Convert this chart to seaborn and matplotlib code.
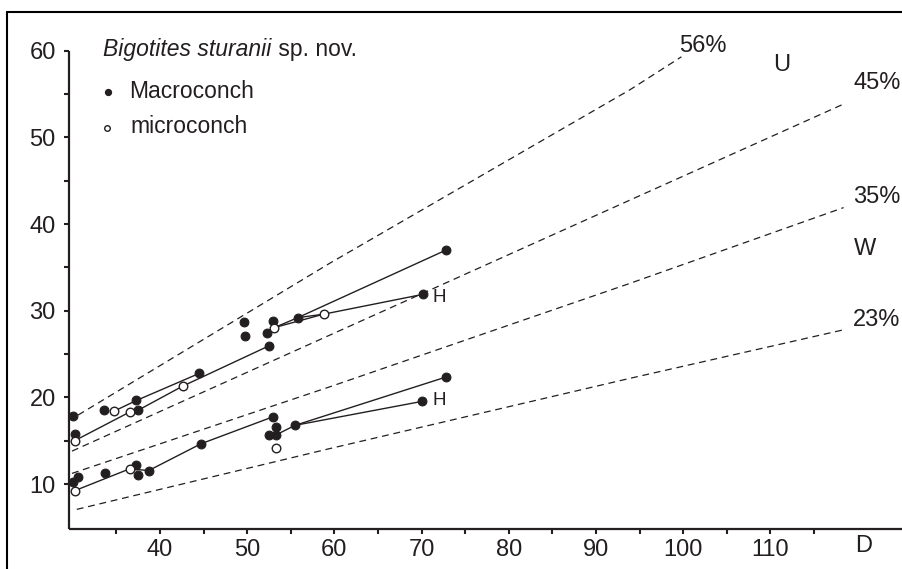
import numpy as np
import pandas as pd
import matplotlib
matplotlib.use("Agg")
import matplotlib.pyplot as plt
from matplotlib.lines import Line2D
import seaborn as sns

# ---------------------------------------------------------------------------
# data (D = diameter, y = dimension in mm)
# ---------------------------------------------------------------------------
macro_D = [30.0, 30.3, 33.6, 37.3, 37.45, 44.5, 49.6, 49.7, 52.3, 53.0, 52.5, 55.8, 70.2, 72.8,
           30.0, 30.6, 33.7, 37.3, 37.45, 38.7, 44.7, 52.9, 52.5, 53.3, 53.35, 55.5, 70.1, 72.8]
macro_y = [17.8, 15.8, 18.6, 19.65, 18.5, 22.77, 28.65, 27.1, 27.4, 28.85, 25.95, 29.2, 31.9, 37.0,
           10.27, 10.77, 11.23, 12.15, 11.1, 11.56, 14.65, 17.74, 15.65, 16.57, 15.7, 16.78, 19.55, 22.35]

micro_D = [30.2, 34.7, 36.5, 42.6, 53.1, 58.75, 30.2, 36.5, 53.3]
micro_y = [15.0, 18.4, 18.3, 21.3, 28.05, 29.6, 9.23, 11.75, 14.2]

# growth tracks of single specimens (solid lines)
track_D = [
    [30.2, 36.5, 37.45, 42.6, 52.5],
    [34.7, 37.3, 44.5],
    [53.1, 55.8, 72.8],
    [53.1, 58.75, 70.2],
    [55.8, 58.75],
    [30.2, 36.5, 38.7, 44.7, 52.9],
    [53.35, 55.5, 72.8],
    [55.5, 70.1],
]
track_y = [
    [15.0, 18.3, 18.5, 21.3, 25.95],
    [18.4, 19.65, 22.77],
    [28.05, 29.2, 37.0],
    [28.05, 29.6, 31.9],
    [29.2, 29.6],
    [9.23, 11.75, 11.56, 14.65, 17.74],
    [15.7, 16.78, 22.35],
    [16.78, 19.55],
]

# reference ratio lines (dashed)
ratio_names = ["56%", "45%", "35%", "23%"]
ratio_D = [
    [30.6, 59.5, 93.9, 99.8],
    [29.9, 59.5, 93.9, 118.4],
    [29.9, 59.5, 93.9, 118.4],
    [30.45, 59.5, 93.9, 118.4],
]
ratio_y = [
    [17.96, 35.5, 55.5, 59.3],
    [13.8, 27.2, 42.77, 53.85],
    [11.23, 21.23, 33.16, 41.9],
    [7.08, 14.1, 22.2, 27.8],
]
ratio_label_x = [102.2, 122.2, 122.2, 122.2]
ratio_label_y = [60.6, 56.3, 43.1, 28.93]

x_ticks = [35, 40, 45, 50, 55, 60, 65, 70, 75, 80, 85, 90, 95, 100, 105, 110, 115]
x_tick_labels = ["", "40", "", "50", "", "60", "", "70", "", "80", "", "90", "", "100", "", "110", ""]
y_ticks = [10, 15, 20, 25, 30, 35, 40, 45, 50, 55, 60]
y_tick_labels = ["10", "", "20", "", "30", "", "40", "", "50", "", "60"]

INK = "#231f20"

sns.set_style("ticks")
plt.rcParams["font.family"] = ["Liberation Sans", "DejaVu Sans"]
plt.rcParams["text.color"] = INK
plt.rcParams["xtick.color"] = INK
plt.rcParams["ytick.color"] = INK

fig = plt.figure(figsize=(9.03, 5.69), dpi=100)
W, H = 903.0, 569.0
ax = fig.add_axes([69 / W, (H - 529.3) / H, (901.7 - 69) / W, (529.3 - 12) / H])

# dashed reference lines
ratio_df = pd.DataFrame({
    "D": sum(ratio_D, []),
    "y": sum(ratio_y, []),
    "line": sum([[n] * len(d) for n, d in zip(ratio_names, ratio_D)], []),
})
sns.lineplot(data=ratio_df, x="D", y="y", units="line", estimator=None, sort=False,
             color=INK, lw=0.9, ax=ax, legend=False)
for ln in ax.lines:
    ln.set_dashes((5.5, 3.8))

# growth tracks
track_df = pd.DataFrame({
    "D": sum(track_D, []),
    "y": sum(track_y, []),
    "track": sum([[i] * len(d) for i, d in enumerate(track_D)], []),
})
sns.lineplot(data=track_df, x="D", y="y", units="track", estimator=None, sort=False,
             color=INK, lw=1.0, ax=ax, legend=False)

# specimens
sns.scatterplot(x=macro_D, y=macro_y, color=INK, edgecolor=INK, s=40, lw=0.8,
                ax=ax, zorder=4, legend=False)
sns.scatterplot(x=micro_D, y=micro_y, color="white", edgecolor=INK, s=38, lw=1.0,
                ax=ax, zorder=5, legend=False)

# labels on the plot
for name, lx, ly in zip(ratio_names, ratio_label_x, ratio_label_y):
    ax.text(lx, ly, name, fontsize=17, ha="center", va="center", clip_on=False)
ax.text(111.3, 58.3, "U", fontsize=17, ha="center", va="center")
ax.text(120.85, 37.15, "W", fontsize=17, ha="center", va="center")
ax.text(72.0, 31.58, "H", fontsize=13.5, ha="center", va="center")
ax.text(72.0, 19.66, "H", fontsize=13.5, ha="center", va="center")
ax.text(120.65, 2.9, "D", fontsize=17, ha="center", va="center", clip_on=False)

# title / key
t1 = ax.text(33.5, 60.1, "Bigotites sturanii", fontsize=16.5, style="italic",
             ha="left", va="center")
ax.annotate(" sp. nov.", xy=(1, 0.5), xycoords=t1, fontsize=16.5, ha="left", va="center")
ax.scatter([34.07], [55.27], s=18, color=INK, zorder=5)
ax.text(36.4, 55.27, "Macroconch", fontsize=16.5, ha="left", va="center")
ax.scatter([33.9], [51.1], s=16, facecolor="white", edgecolor=INK, lw=1.0, zorder=5)
ax.text(36.6, 51.3, "microconch", fontsize=16.5, ha="left", va="center")

# axes styling
ax.set_xlim(29.56, 125.06)
ax.set_ylim(4.78, 64.47)
ax.set_xticks(x_ticks)
ax.set_xticklabels(x_tick_labels)
ax.set_yticks(y_ticks)
ax.set_yticklabels(y_tick_labels)
ax.set_xlabel("")
ax.set_ylabel("")
ax.tick_params(axis="both", length=3.6, width=1.5, labelsize=17)
ax.tick_params(axis="x", pad=3.5)
ax.tick_params(axis="y", pad=6)
sns.despine(ax=ax)
ax.spines["left"].set_bounds(4.78, 60)
for sp in ("left", "bottom"):
    ax.spines[sp].set_linewidth(1.6)
    ax.spines[sp].set_color(INK)
    ax.spines[sp].set_capstyle("butt")

# frame of the original panel (top and left edges only, rest is cropped)
bx, by = 7.3 / W, (H - 11.7) / H
fig.add_artist(Line2D([bx, bx], [0, by], transform=fig.transFigure, color="black", lw=1.5))
fig.add_artist(Line2D([bx, 1.0], [by, by], transform=fig.transFigure, color="black", lw=1.5))

fig.savefig("out.png", dpi=100)
